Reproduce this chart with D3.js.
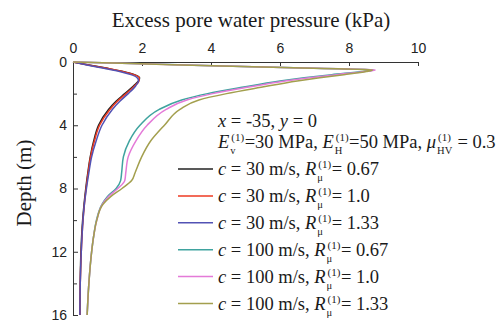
<!DOCTYPE html>
<html>
<head>
<meta charset="utf-8">
<script src="https://cdn.jsdelivr.net/npm/d3@7"></script>
<style>
body { margin: 0; background: #fff; }
text { white-space: pre; }
</style>
</head>
<body>
<div id="chart"></div>
<script>
// depth grids (m)
var depthSlow = [0, 0.2, 0.4, 0.6, 0.8, 1.0, 1.2, 1.5, 2.0, 2.5, 3, 4, 5, 6, 7, 8, 9, 10, 12, 14, 16];
var depthFast = [0, 0.1, 0.2, 0.3, 0.4, 0.5, 0.6, 0.8, 1.0, 1.2, 1.6, 2.0, 2.4, 3, 4, 5, 6, 7, 7.5, 8, 8.5, 9, 10, 11, 12, 14, 16];

// excess pore water pressure (kPa)
var p30_067 = [0, 0.5, 1.0, 1.45, 1.78, 1.93, 1.90, 1.76, 1.50, 1.24, 1.03, 0.74, 0.60, 0.50, 0.43, 0.37, 0.32, 0.28, 0.23, 0.21, 0.20];
var p30_100 = [0, 0.48, 0.97, 1.43, 1.76, 1.92, 1.91, 1.79, 1.54, 1.28, 1.07, 0.77, 0.62, 0.51, 0.44, 0.38, 0.33, 0.29, 0.24, 0.21, 0.20];
var p30_133 = [0, 0.44, 0.90, 1.35, 1.68, 1.86, 1.90, 1.82, 1.60, 1.35, 1.14, 0.84, 0.67, 0.54, 0.46, 0.39, 0.33, 0.29, 0.24, 0.21, 0.20];
var p100_067 = [0, 1.7, 3.5, 5.2, 7.0, 8.72, 8.4, 7.5, 6.7, 6.0, 4.9, 3.9, 3.15, 2.5, 1.94, 1.63, 1.46, 1.41, 1.38, 1.25, 1.0, 0.84, 0.68, 0.6, 0.54, 0.46, 0.41];
var p100_100 = [0, 1.7, 3.5, 5.25, 7.05, 8.76, 8.45, 7.65, 6.85, 6.15, 5.05, 4.05, 3.3, 2.7, 2.15, 1.82, 1.6, 1.53, 1.5, 1.3, 1.03, 0.85, 0.69, 0.6, 0.54, 0.46, 0.41];
var p100_133 = [0, 1.7, 3.45, 5.2, 6.95, 8.68, 8.5, 7.85, 7.15, 6.5, 5.45, 4.45, 3.65, 3.1, 2.65, 2.25, 1.99, 1.8, 1.7, 1.42, 1.1, 0.87, 0.69, 0.6, 0.54, 0.46, 0.41];

var speeds = ["30", "30", "30", "100", "100", "100"];
var ratios = ["0.67", "1.0", "1.33", "0.67", "1.0", "1.33"];
var colors = ["#222222", "#ee3a22", "#5252b4", "#3fa39f", "#e47ad8", "#a39f4e"];

var xTicks = [0, 2, 4, 6, 8, 10];
var yTicks = [0, 4, 8, 12, 16];
var yMinor = [2, 6, 10, 14];

var series = [
	{d: depthSlow, p: p30_067},
	{d: depthSlow, p: p30_100},
	{d: depthSlow, p: p30_133},
	{d: depthFast, p: p100_067},
	{d: depthFast, p: p100_100},
	{d: depthFast, p: p100_133}
];

var W = 503, H = 323;
var svg = d3.select("#chart").append("svg")
	.attr("width", W)
	.attr("height", H);

var x = d3.scaleLinear().domain([0, 10]).range([73, 418]);
var y = d3.scaleLinear().domain([0, 16]).range([62, 315]);

var serif = "'Liberation Serif', 'Times New Roman', serif";
var sans = "'Liberation Sans', Arial, sans-serif";

// axes
var gx = svg.append("g")
	.attr("transform", "translate(0," + y(0) + ")")
	.call(d3.axisTop(x).tickValues(xTicks).tickSizeInner(-4).tickSizeOuter(0).tickPadding(9));
var gy = svg.append("g")
	.attr("transform", "translate(" + x(0) + ",0)")
	.call(d3.axisLeft(y).tickValues(yTicks).tickSizeInner(-5).tickSizeOuter(0).tickPadding(6));
var gym = svg.append("g")
	.attr("transform", "translate(" + x(0) + ",0)")
	.call(d3.axisLeft(y).tickValues(yMinor).tickSizeInner(-4).tickSizeOuter(0).tickFormat(""));
gym.select(".domain").remove();

[gx, gy, gym].forEach(function(g)
{
	g.selectAll("text").attr("font-family", sans).attr("font-size", 14).attr("fill", "#222");
	g.selectAll("line").attr("stroke", "#333");
	g.select(".domain").attr("stroke", "#333");
});

// curves
var line = d3.line()
	.x(function(d) { return x(d[1]); })
	.y(function(d) { return y(d[0]); })
	.curve(d3.curveMonotoneY);

series.forEach(function(s, i)
{
	svg.append("path")
		.datum(d3.zip(s.d, s.p))
		.attr("fill", "none")
		.attr("stroke", colors[i])
		.attr("stroke-width", 1.5)
		.attr("d", line);
});

// titles
svg.append("text")
	.attr("x", 251)
	.attr("y", 27)
	.attr("text-anchor", "middle")
	.attr("font-family", serif)
	.attr("font-size", 21)
	.attr("fill", "#1a1a1a")
	.text("Excess pore water pressure (kPa)");

svg.append("text")
	.attr("transform", "translate(31,183) rotate(-90)")
	.attr("text-anchor", "middle")
	.attr("font-family", serif)
	.attr("font-size", 21)
	.attr("fill", "#1a1a1a")
	.text("Depth (m)");

// rich text with stacked sub/superscripts
var note = svg.append("g")
	.attr("font-family", serif)
	.attr("fill", "#1a1a1a");

function rich(g, x0, y0, parts)
{
	var cx = x0;
	parts.forEach(function(p)
	{
		if (p.sub !== undefined || p.sup !== undefined)
		{
			var w1 = 0, w2 = 0;
			if (p.sub)
			{
				var t1 = g.append("text").attr("x", cx + 1).attr("y", y0 + 6)
					.attr("font-size", 10.5).text(p.sub);
				w1 = t1.node().getComputedTextLength();
			}
			if (p.sup)
			{
				var t2 = g.append("text").attr("x", cx + 2).attr("y", y0 - 7)
					.attr("font-size", 11).text(p.sup);
				w2 = t2.node().getComputedTextLength() + 1;
			}
			cx += Math.max(w1, w2) + 1.5;
		}
		else
		{
			var t = g.append("text").attr("x", cx).attr("y", y0)
				.attr("font-size", 18.5)
				.attr("font-style", p.i ? "italic" : "normal")
				.text(p.t);
			cx += t.node().getComputedTextLength();
		}
	});
}

rich(note, 218, 127, [
	{t: "x", i: true}, {t: " = -35, "}, {t: "y", i: true}, {t: " = 0"}
]);
rich(note, 218, 148, [
	{t: "E", i: true}, {sub: "v", sup: "(1)"}, {t: "=30 MPa, "},
	{t: "E", i: true}, {sub: "H", sup: "(1)"}, {t: "=50 MPa, "},
	{t: "μ", i: true}, {sub: "HV", sup: "(1)"}, {t: " = 0.3"}
]);

// legend
var leg = svg.append("g");
speeds.forEach(function(c, i)
{
	var cy = 169 + i * 26.9;
	leg.append("line")
		.attr("x1", 178).attr("x2", 213)
		.attr("y1", cy).attr("y2", cy)
		.attr("stroke", colors[i])
		.attr("stroke-width", 1.5);
	var g = leg.append("g").attr("font-family", serif).attr("fill", "#1a1a1a");
	rich(g, 218, cy + 6, [
		{t: "c", i: true}, {t: " = " + c + " m/s, "},
		{t: "R", i: true}, {sub: "μ", sup: "(1)"}, {t: "= " + ratios[i]}
	]);
});
</script>
</body>
</html>
